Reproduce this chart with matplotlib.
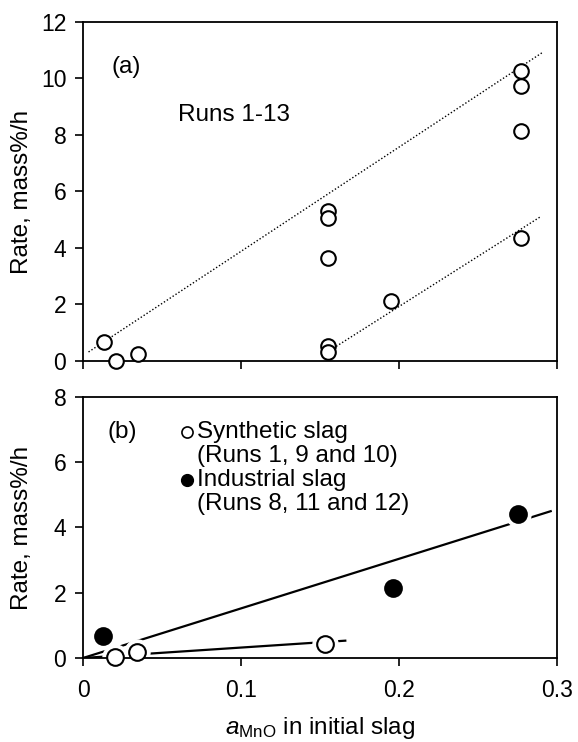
import numpy as np
import matplotlib.pyplot as plt

plt.rcParams['font.family'] = ['Liberation Sans', 'DejaVu Sans']
plt.rcParams['mathtext.fontset'] = 'custom'
plt.rcParams['mathtext.rm'] = 'Liberation Sans'
plt.rcParams['mathtext.it'] = 'Liberation Sans:italic'

# (a) all runs
a_mno = [0.013, 0.021, 0.0345, 0.155, 0.155, 0.155, 0.155, 0.155, 0.195, 0.277, 0.277, 0.277, 0.277]
a_rate = [0.67, 0.0, 0.24, 5.31, 5.07, 3.64, 0.52, 0.32, 2.12, 10.25, 9.72, 8.13, 4.37]

# bounding lines for (a): slope, intercept, x range
upper_slope, upper_icpt, upper_x = 36.9, 0.19, [0.0035, 0.291]
lower_slope, lower_icpt, lower_x = 35.5, -35.5 * 0.1457, [0.1547, 0.290]

# (b) synthetic vs industrial slag
syn_mno = [0.0205, 0.0344, 0.153]
syn_rate = [0.04, 0.19, 0.43]
ind_mno = [0.0125, 0.196, 0.2755]
ind_rate = [0.68, 2.14, 4.41]

syn_slope, syn_x = 3.2, [0.0, 0.166]
ind_slope, ind_x = 15.2, [0.0, 0.296]

FS_TICK = 16.5
FS_TXT = 17.5

fig = plt.figure(figsize=(5.78, 7.42), dpi=100)
ax1 = fig.add_axes([0.1436, 0.5135, 0.8201, 0.4569])
ax2 = fig.add_axes([0.1436, 0.1132, 0.8201, 0.3518])

for ax in (ax1, ax2):
    ax.set_xlim(0, 0.3)
    ax.set_xticks([0, 0.1, 0.2, 0.3])
    ax.tick_params(direction='out', length=6, width=1.2, labelsize=FS_TICK)
    ax.tick_params(axis='x', pad=9)
    ax.tick_params(axis='y', pad=6)
    for s in ax.spines.values():
        s.set_linewidth(1.3)
    ax.set_ylabel('Rate, mass%/h', fontsize=FS_TXT, va='center')
    ax.yaxis.set_label_coords(-0.129, 0.5)

# --- panel (a)
ax1.set_ylim(0, 12)
ax1.set_yticks(range(0, 13, 2))
ax1.set_xticklabels([])
xx = np.array(upper_x)
ax1.plot(xx, upper_slope * xx + upper_icpt, color='black', lw=1.0, ls=(0, (1, 1.5)))
xx = np.array(lower_x)
ax1.plot(xx, lower_slope * xx + lower_icpt, color='black', lw=1.0, ls=(0, (1, 1.5)))
ax1.plot(a_mno, a_rate, 'o', ms=10.5, mfc='white', mec='black', mew=1.5,
         clip_on=False, zorder=3)
ax1.text(0.061, 0.867, '(a)', transform=ax1.transAxes, fontsize=FS_TXT, va='center')
ax1.text(0.2, 0.726, 'Runs 1-13', transform=ax1.transAxes, fontsize=FS_TXT, va='center')

# --- panel (b)
ax2.set_ylim(0, 8)
ax2.set_yticks(range(0, 9, 2))
ax2.set_xticklabels(['0', '0.1', '0.2', '0.3'])
xx = np.array(ind_x)
ax2.plot(xx, ind_slope * xx, color='black', lw=1.6, zorder=2)
xx = np.array(syn_x)
ax2.plot(xx, syn_slope * xx, color='black', lw=1.6, zorder=2)
# white rims so the fit lines break around the symbols
ax2.plot(syn_mno + ind_mno, syn_rate + ind_rate, 'o', ms=18, mfc='white', mec='white',
         clip_on=False, zorder=2.2)
ax2.plot(syn_mno, syn_rate, 'o', ms=12, mfc='white', mec='black', mew=1.5,
         clip_on=False, zorder=3)
ax2.plot(ind_mno, ind_rate, 'o', ms=12, mfc='black', mec='black', mew=1.5,
         clip_on=False, zorder=3)

ax2.text(0.051, 0.866, '(b)', transform=ax2.transAxes, fontsize=FS_TXT, va='center')
ax2.plot([0.219], [0.866], 'o', ms=8, mfc='white', mec='black', mew=1.2,
         transform=ax2.transAxes)
ax2.plot([0.219], [0.682], 'o', ms=8.5, mfc='black', mec='black',
         transform=ax2.transAxes)
leg_lines = ['Synthetic slag', '(Runs 1, 9 and 10)', 'Industrial slag', '(Runs 8, 11 and 12)']
for yy, txt in zip([0.866, 0.774, 0.682, 0.590], leg_lines):
    ax2.text(0.24, yy, txt, transform=ax2.transAxes, fontsize=FS_TXT, va='center')

ax2.set_xlabel(r'$a_{\mathrm{MnO}}$ in initial slag', fontsize=FS_TXT, va='center')
ax2.xaxis.set_label_coords(0.5, -0.27)

fig.savefig('out.png', dpi=100)
